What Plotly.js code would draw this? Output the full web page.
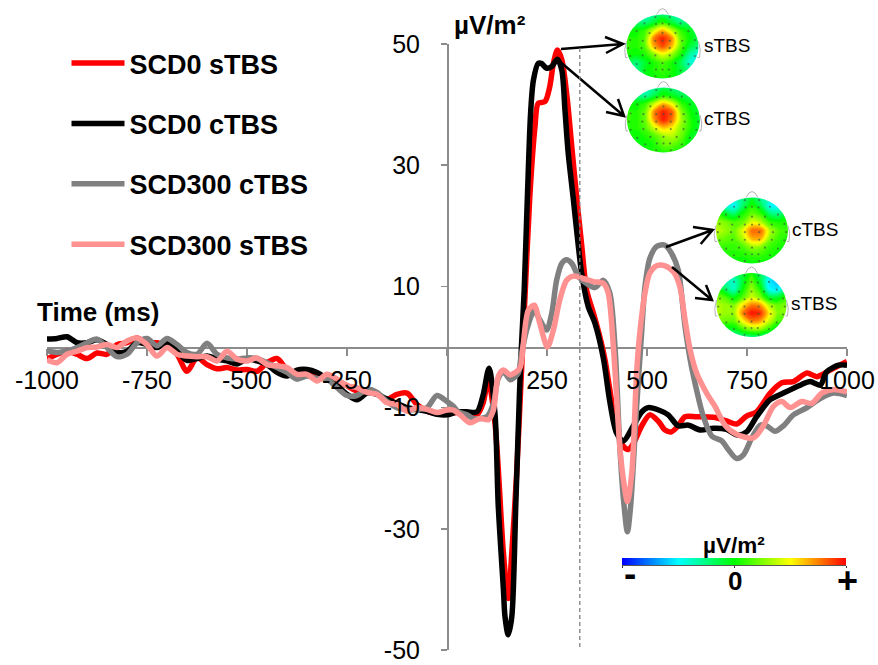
<!DOCTYPE html>
<html>
<head>
<meta charset="utf-8">
<script src="https://cdn.plot.ly/plotly-3.0.1.min.js"></script>
<style>html,body{margin:0;padding:0;background:#fff}</style>
</head>
<body>
<div id="chart" style="width:878px;height:665px"></div>
<script>
// ---------- ERP waveforms ----------
const timeBaseline = [-1000,-975,-950,-925,-900,-875,-850,-825,-800,-775,-750,-725,-700,-675,-650,-625,-600,-575,-550,-525,-500,-475,-450,-425,-400,-375,-350,-325,-300,-275,-250,-225,-200,-175,-150,-125,-100,-75,-50,-25];

const redBase   = [-2,-1.2,-.7,-1.2,-1.9,-1,-1.2,.4,.7,1.5,.7,.7,.2,-1.2,-4,-1.8,-2.9,-3.6,-3.4,-3.8,-3.7,-4,-2.6,-1.9,-3.7,-4.5,-4.5,-5,-5.3,-5.6,-6.4,-7.3,-7.3,-7.8,-8.6,-7.8,-7.6,-9.5,-10.6,-11];
const blackBase = [1.3,1.4,1.7,.7,.7,1.2,.4,-.9,-.7,.7,.4,-.1,.7,-.7,-2.2,-1.9,-1.5,-2,-2.3,-2.8,-2,-2.3,-2.9,-4.2,-4.8,-3.8,-3.7,-4.2,-5.2,-6.3,-7.8,-8.7,-7.6,-7.8,-8.6,-9.3,-10,-10.3,-10.6,-11.1];
const grayBase  = [-.6,-.9,-.7,-.1,.7,1.3,-.1,-1.6,-1.2,.7,1.4,.2,1.4,.4,-.9,-1.2,.6,-1.2,-1.8,-2,-1.8,-1.9,-2.6,-3.4,-4.2,-5.3,-4.8,-5.2,-5.3,-6.7,-8,-8,-7,-7.5,-9,-10,-10.3,-10.3,-10,-8];
const pinkBase  = [-2.1,-2.6,-1.2,-.7,-.1,0,.4,-.1,1,1.5,.4,-1.5,-.1,-1.2,-1.5,-1.6,-1.6,-2.3,-.7,-2,-2.3,-1.8,-2.9,-3.1,-3.4,-4.5,-4.5,-5.6,-4.5,-5.3,-6.4,-6.7,-7.5,-7.8,-9.2,-9.5,-10.6,-10,-10.3,-10.8];

const redT = [0,25,50,75,90,103,120,141,153,162,174,182,195,207,220,228,245,257,266,276,287,300,312,324,337,349,366,382,395,407,424,441,453,466,487,507,529,545,561,578,595,624,666,699,724,749,774,808,837,866,900,925,958,1000];
const redV = [-11.1,-10.8,-11.3,-11.2,-9.3,-5.4,-12.6,-34,-41.5,-34,-21,-10,8.3,24.8,36.4,40.2,40.5,43,46.8,49,47.4,41.3,33,24.8,16.6,9.4,5.6,1.7,-2.1,-7,-13.7,-16.4,-16.9,-15.9,-13,-11.2,-12.3,-13.7,-14,-13,-11.5,-11.5,-11.6,-12.2,-12.7,-11.4,-10.7,-7.6,-5.9,-5.7,-4.3,-4.9,-3.8,-2.4];

const blackT = [0,25,50,75,90,105,120,128,141,145,153,162,172,181,186,193,201,209,216,228,236,249,262,276,287,295,303,316,324,337,353,370,391,407,424,441,466,487,503,529,553,578,604,633,666,699,724,749,774,808,841,883,908,933,949,979,1000];
const blackV = [-11.2,-10.7,-10.7,-10.7,-8,-3.5,-11,-26,-40,-44.5,-47.5,-44.5,-26,-8,0,9.4,24.8,38.6,44,46.8,46.8,46,46.3,47.5,45.7,39,32,24.3,19.3,12,6.7,3.9,-1.9,-9,-14.2,-15.5,-13,-10.7,-10,-10.4,-11.2,-13,-12.9,-13.7,-13.4,-13.6,-14.5,-14,-11.5,-8.7,-7.6,-6.3,-5.7,-6.3,-4.1,-3,-3];

const grayT = [0,16,28,50,66,82,100,116,128,141,158,178,185,200,218,232,249,262,274,287,299,312,329,349,370,391,407,420,432,441,451,459,474,487,495,507,524,545,561,578,595,608,624,641,662,687,704,724,741,762,783,799,820,841,866,900,933,966,1000];
const grayV = [-9,-9.8,-10.7,-11.2,-11.8,-11.8,-11.5,-9.3,-5.2,-4,-5.4,-4.3,-1.6,3,6,4.5,2.8,5.6,11,13.8,14.4,13.8,11.6,10.5,9.8,11,8.9,0,-16.4,-25,-30.5,-26.3,-10,2.8,10,14.6,16.6,16.8,15.5,12.7,3.4,-2.1,-7.1,-11.5,-14.7,-15.5,-17,-18.4,-17.8,-15,-12.9,-13,-13.9,-13,-11.2,-10,-8.5,-7.6,-8];

const pinkT = [0,16,33,57,82,103,116,128,141,158,182,190,203,218,232,251,266,282,299,316,341,366,391,403,416,432,441,451,462,474,482,495,507,524,545,566,582,595,608,624,649,670,695,724,766,791,816,837,858,887,912,937,966,1000];
const pinkV = [-10.4,-10.4,-11.2,-12.5,-11.8,-12,-10.4,-4.9,-3.8,-4.6,-3.5,0,6,6.9,3.9,0,2.8,7.8,11,11.7,11.3,10.8,10.5,8.9,0,-16.4,-21.9,-25.5,-20.8,-4.3,2.3,8.9,12.2,13.4,13.4,12.4,10,4.5,-.5,-4.3,-7.6,-9.8,-12.9,-14.4,-15,-13,-9.8,-9,-10,-9,-9.3,-7.6,-7,-7.4];

const seriesNames = ['SCD0 sTBS','SCD0 cTBS','SCD300 cTBS','SCD300 sTBS'];
const seriesColors = ['#ff0000','#000000','#808080','#ff9191'];

// ---------- axis labels ----------
const xTicks = [-1000,-750,-500,-250,0,250,500,750,1000];
const xLabels = ['-1000','-750','-500','-250','','250','500','750','1000'];
const yTicks = [-50,-30,-10,10,30,50];
const yLabels = ['-50','-30','-10','10','30','50'];

// ---------- scalp maps (rows from front of head to back, columns left to right) ----------
const topoS1 = [
 [-.3,-.3,-.35,-.3,-.2,-.3,-.35,-.3,-.3],
 [-.2,-.2,-.25,-.1,.1,-.1,-.25,-.2,-.2],
 [0,0,.1,.4,.65,.4,.1,-.05,-.15],
 [.1,.05,.15,.75,.95,.75,.2,0,-.15],
 [.1,.05,.15,.65,.85,.65,.2,-.1,-.25],
 [.05,0,.05,.25,.45,.3,.05,-.3,-.45],
 [-.1,-.25,-.1,.05,.15,.05,-.15,-.4,-.4],
 [-.15,-.3,-.05,.05,.1,.05,-.1,-.25,-.25],
 [-.2,-.2,-.1,0,.05,0,-.1,-.2,-.2]];
const topoC1 = [
 [-.3,-.35,-.4,-.3,-.15,-.25,-.25,-.2,-.2],
 [-.15,-.25,-.3,-.15,.05,-.05,-.15,-.15,-.15],
 [0,0,.1,.4,.65,.45,.1,-.05,-.1],
 [.1,.05,.2,.75,.95,.8,.25,0,-.1],
 [.1,.05,.2,.7,.95,.75,.3,.05,-.1],
 [.05,.05,.15,.4,.6,.5,.25,.05,-.1],
 [0,0,.05,.15,.3,.35,.2,-.05,-.1],
 [-.1,-.05,0,.05,.2,.2,.1,-.05,-.15],
 [-.15,-.05,0,.05,.05,.05,0,-.05,-.15]];
const topoC2 = [
 [-.3,-.4,-.4,-.25,-.1,-.3,-.35,-.35,-.25],
 [-.15,-.4,-.5,-.2,.05,-.15,-.5,-.5,-.25],
 [.1,-.05,-.2,.05,.2,.1,-.2,-.25,-.05],
 [.3,.25,.15,.2,.45,.35,.1,.05,.05],
 [.4,.3,.2,.45,.8,.8,.35,.15,.1],
 [.25,.2,.15,.35,.65,.65,.25,.1,.05],
 [.1,.1,.1,.15,.3,.25,.1,.05,0],
 [0,.05,.05,.05,.1,.1,.05,0,0],
 [-.05,0,0,0,0,0,0,0,-.05]];
const topoS2 = [
 [-.15,-.15,-.2,-.1,.05,-.2,-.35,-.35,-.25],
 [-.15,-.3,-.4,-.1,.2,-.1,-.55,-.6,-.35],
 [.05,-.2,-.4,0,.3,.05,-.5,-.55,-.2],
 [.25,.15,-.05,.15,.4,.25,-.1,-.1,.1],
 [.35,.3,.25,.55,.75,.7,.35,.2,.25],
 [.35,.3,.3,.75,.97,.92,.55,.25,.25],
 [.25,.2,.2,.5,.75,.7,.4,.15,.15],
 [-.05,-.1,-.05,.15,.3,.3,.1,-.1,-.2],
 [-.35,-.4,-.35,-.3,-.25,-.25,-.3,-.35,-.35]];
const topoGridAxis = [-1,-.75,-.5,-.25,0,.25,.5,.75,1];
const topoRowAxis = [1,.75,.5,.25,0,-.25,-.5,-.75,-1];
const jetScale = [[0,'#0000ff'],[.25,'#00ffff'],[.5,'#00ff00'],[.75,'#ffff00'],[1,'#ff0000']];

// electrode sites on the unit head
const electrodeX = [-.2,.2,-.5,-.18,.18,.5,-.72,-.36,0,.36,.72,-.9,-.55,-.2,.2,.55,.9,-.95,-.58,-.2,.2,.58,.95,-.9,-.55,-.2,.2,.55,.9,-.72,-.36,0,.36,.72,-.5,-.18,.18,.5,-.2,.2,0,0,0];
const electrodeY = [.92,.92,.72,.7,.7,.72,.48,.42,.72,.42,.48,.2,.18,.18,.18,.18,.2,-.05,-.05,-.05,-.05,-.05,-.05,-.3,-.28,-.28,-.28,-.28,-.3,-.55,-.52,-.52,-.52,-.55,-.75,-.72,-.72,-.75,-.93,-.93,.42,.18,-.72];

const colorbarX = [-1,-.75,-.5,-.25,0,.25,.5,.75,1];

// ---------- page geometry (pixels) ----------
const W = 878, H = 665;
const X = p => p / W, Y = p => 1 - p / H;
const topoPlaces = [
 {z: topoS1, cx: 662.5, cy: 46.5, rx: 36, ry: 32},
 {z: topoC1, cx: 663.5, cy: 120, rx: 36.5, ry: 32.5},
 {z: topoC2, cx: 752, cy: 230.5, rx: 36, ry: 33},
 {z: topoS2, cx: 751.5, cy: 305, rx: 35, ry: 32}];
const pad = 1.11;
const arrows = [
 [[561,49],[623,44],[605,37],[606,53]],
 [[558,60],[624,116],[618,99],[606,112]],
 [[666,247],[712.7,230],[693,227],[700.7,244]],
 [[672,267],[712,300],[695,298],[706,285]]];
const notes = [
 ['Time (ms)',97.5,312,26,true],
 ['µV/m²',490,25,26,true],
 ['sTBS',727,45,19,false],
 ['cTBS',726.5,118,19,false],
 ['cTBS',815,229,19,false],
 ['sTBS',814,304,19,false],
 ['µV/m²',734,545,22.5,true],
 ['-',630,573,37,true],
 ['0',735,581,26,true],
 ['+',847,580,36,true]];

// ---------- traces ----------
const waves = [
 [redT,redBase,redV],[blackT,blackBase,blackV],[grayT,grayBase,grayV],[pinkT,pinkBase,pinkV]
];
const traces = waves.map((w,i)=>({
  type:'scatter',mode:'lines',name:seriesNames[i],legendgroup:seriesNames[i],
  x:timeBaseline.concat(w[0]),y:w[1].concat(w[2]),
  line:{color:seriesColors[i],width:5.5,shape:'spline',smoothing:.8},
  hoverinfo:'skip',cliponaxis:false
}));

const layout = {
  width:W,height:H,margin:{l:0,r:0,t:0,b:0},
  paper_bgcolor:'#fff',plot_bgcolor:'rgba(0,0,0,0)',
  font:{family:'"Liberation Sans",Arial,sans-serif',color:'#000'},
  showlegend:true,
  legend:{x:X(66.5),y:Y(39),xanchor:'left',yanchor:'top',itemwidth:53,tracegroupgap:22.3,
    font:{size:27,family:'"Liberation Sans",Arial,sans-serif',weight:'bold',color:'#000'},
    bgcolor:'rgba(0,0,0,0)',itemclick:false,itemdoubleclick:false},
  // axis lines and ticks, beneath the curves
  xaxis:{domain:[X(47),X(847)],range:[-1000,1000],anchor:'free',position:Y(347),
    tickmode:'array',tickvals:xTicks,ticktext:xLabels,showticklabels:false,ticks:'outside',ticklen:7,tickwidth:1.5,tickcolor:'#8c8c8c',
    showline:true,linecolor:'#8c8c8c',linewidth:1.5,showgrid:false,zeroline:false,
    layer:'below traces',fixedrange:true,automargin:false},
  yaxis:{domain:[Y(650),Y(44)],range:[-50,50],anchor:'free',position:X(447),
    tickmode:'array',tickvals:yTicks,ticktext:yLabels,showticklabels:false,ticks:'outside',ticklen:6,tickwidth:1.5,tickcolor:'#8c8c8c',
    showline:true,linecolor:'#8c8c8c',linewidth:1.5,showgrid:false,zeroline:false,
    layer:'below traces',fixedrange:true,automargin:false},
  // tick labels, on top of the curves
  xaxis7:{domain:[X(47),X(847)],range:[-1000,1000],anchor:'free',position:Y(347),
    tickmode:'array',tickvals:xTicks,ticktext:xLabels,ticks:'',
    showline:false,showgrid:false,zeroline:false,
    tickfont:{size:25,color:'#000'},ticklabelstandoff:16,layer:'above traces',fixedrange:true,automargin:false},
  yaxis7:{domain:[Y(650),Y(44)],range:[-50,50],anchor:'free',position:X(447),
    tickmode:'array',tickvals:yTicks,ticktext:yLabels,ticks:'',
    showline:false,showgrid:false,zeroline:false,
    tickfont:{size:25,color:'#000'},ticklabelstandoff:27,layer:'above traces',fixedrange:true,automargin:false},
  shapes:[],
  annotations:notes.map(n=>({text:n[0],xref:'paper',yref:'paper',x:X(n[1]),y:Y(n[2]),xanchor:'center',yanchor:'middle',
    showarrow:false,font:{size:n[3],weight:n[4]?'bold':'normal',color:'#000'}}))
};
traces.push({type:'scatter',mode:'lines',x:[0,0],y:[0,0],xaxis:'x7',yaxis:'y7',showlegend:false,hoverinfo:'skip',line:{width:0}});

// scalp maps
const kappa = 0.5523;
function ellipsePath(c){
  const k=kappa,cx=c.cx,cy=c.cy,a=c.rx,b=c.ry;
  const fx=p=>X(p).toFixed(5), fy=p=>Y(p).toFixed(5);
  const pt=(x,y)=>fx(x)+','+fy(y);
  return 'M'+pt(cx-a,cy)+' C'+pt(cx-a,cy-k*b)+' '+pt(cx-k*a,cy-b)+' '+pt(cx,cy-b)+
    ' C'+pt(cx+k*a,cy-b)+' '+pt(cx+a,cy-k*b)+' '+pt(cx+a,cy)+
    ' C'+pt(cx+a,cy+k*b)+' '+pt(cx+k*a,cy+b)+' '+pt(cx,cy+b)+
    ' C'+pt(cx-k*a,cy+b)+' '+pt(cx-a,cy+k*b)+' '+pt(cx-a,cy)+' Z';
}
topoPlaces.forEach((c,i)=>{
  const n=i+2,xn='xaxis'+n,yn='yaxis'+n;
  layout[xn]={domain:[X(c.cx-pad*c.rx),X(c.cx+pad*c.rx)],range:[-pad,pad],anchor:'y'+n,visible:false,fixedrange:true};
  layout[yn]={domain:[Y(c.cy+pad*c.ry),Y(c.cy-pad*c.ry)],range:[-pad,pad],anchor:'x'+n,visible:false,fixedrange:true};
  traces.push({type:'contour',x:topoGridAxis,y:topoRowAxis,z:c.z,zmin:-1,zmax:1,colorscale:jetScale,
    autocontour:false,contours:{start:-1,end:1,size:.04,coloring:'fill',showlines:false},line:{width:0},
    showscale:false,showlegend:false,hoverinfo:'skip',xaxis:'x'+n,yaxis:'y'+n});
  traces.push({type:'scatter',mode:'markers',x:electrodeX,y:electrodeY,xaxis:'x'+n,yaxis:'y'+n,showlegend:false,hoverinfo:'skip',
    marker:{size:2.2,color:'#3c5a3c',opacity:.65}});
  // white surround with head-shaped hole
  const l=X(c.cx-pad*c.rx-1),r=X(c.cx+pad*c.rx+1),t=Y(c.cy-pad*c.ry-1),b=Y(c.cy+pad*c.ry+1);
  layout.shapes.push({type:'path',xref:'paper',yref:'paper',fillrule:'evenodd',fillcolor:'#fff',line:{width:0},
    path:'M'+l+','+t+' L'+r+','+t+' L'+r+','+b+' L'+l+','+b+' Z '+ellipsePath(c)});
});
// nose and ears
topoPlaces.forEach(c=>{
  const g={type:'path',xref:'paper',yref:'paper',line:{color:'#b4b4b4',width:1}};
  const P=(x,y)=>X(x).toFixed(5)+','+Y(y).toFixed(5);
  const top=c.cy-c.ry;
  layout.shapes.push(Object.assign({},g,{path:'M'+P(c.cx-6,top)+' Q'+P(c.cx,top-12)+' '+P(c.cx+6,top)}));
  layout.shapes.push(Object.assign({},g,{path:'M'+P(c.cx-c.rx,c.cy-5)+' Q'+P(c.cx-c.rx-3,c.cy+3)+' '+P(c.cx-c.rx-1,c.cy+11)+' L'+P(c.cx-c.rx+1,c.cy+11)}));
  layout.shapes.push(Object.assign({},g,{path:'M'+P(c.cx+c.rx,c.cy-5)+' Q'+P(c.cx+c.rx+3,c.cy+3)+' '+P(c.cx+c.rx+1,c.cy+11)+' L'+P(c.cx+c.rx-1,c.cy+11)}));
});
// arrows
arrows.forEach(a=>{
  const P=p=>X(p[0]).toFixed(5)+','+Y(p[1]).toFixed(5);
  layout.shapes.push({type:'path',xref:'paper',yref:'paper',line:{color:'#000',width:2.5},
    path:'M'+P(a[0])+' L'+P(a[1])+' M'+P(a[2])+' L'+P(a[1])+' L'+P(a[3])});
});
// latency marker
layout.shapes.push({type:'line',xref:'x',yref:'y',x0:332,x1:332,y0:-49.5,y1:49.5,line:{color:'#7f7f7f',width:1.3,dash:'4px,3px'}});

// colour bar
layout.xaxis6={domain:[X(622),X(846)],range:[-1,1],anchor:'y6',showline:true,linecolor:'#555',linewidth:1,
  tickmode:'array',tickvals:[-1,0,1],ticktext:['','',''],ticks:'outside',ticklen:2,tickwidth:1,tickcolor:'#333',showgrid:false,zeroline:false,fixedrange:true};
layout.yaxis6={domain:[Y(565),Y(558)],range:[0,1],anchor:'x6',visible:false,fixedrange:true};
traces.push({type:'heatmap',x:colorbarX,y:[0,1],z:[colorbarX,colorbarX],zmin:-1,zmax:1,colorscale:jetScale,zsmooth:'best',
  showscale:false,showlegend:false,hoverinfo:'skip',xaxis:'x6',yaxis:'y6'});

Plotly.newPlot('chart',traces,layout,{displayModeBar:false,staticPlot:true});
</script>
</body>
</html>
